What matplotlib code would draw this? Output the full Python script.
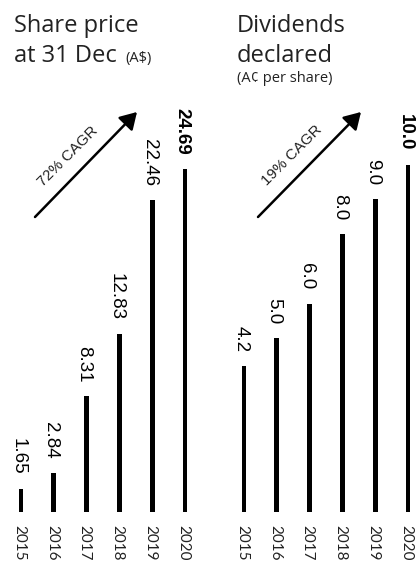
import matplotlib.pyplot as plt
from matplotlib.patches import FancyArrowPatch

# data
years = ['2015', '2016', '2017', '2018', '2019', '2020']
share_price = [1.65, 2.84, 8.31, 12.83, 22.46, 24.69]
share_labels = ['1.65', '2.84', '8.31', '12.83', '22.46', '24.69']
dividends = [4.2, 5.0, 6.0, 8.0, 9.0, 10.0]
div_labels = ['4.2', '5.0', '6.0', '8.0', '9.0', '10.0']

W, H = 417, 563
fig = plt.figure(figsize=(W / 100, H / 100), dpi=100)

title_font = ['Open Sans', 'DejaVu Sans']
num_font = 'Liberation Sans'


def px_axes(left, bottom, width, height):
    return fig.add_axes([left / W, bottom / H, width / W, height / H])


def draw_panel(ax, values, labels, ymax, xmax):
    x = list(range(len(values)))
    ax.bar(x, values, width=0.15, color='black')
    ax.set_xlim(-0.5, xmax)
    ax.set_ylim(0, ymax)
    ax.axis('off')
    for i, (v, lab) in enumerate(zip(values, labels)):
        last = i == len(values) - 1
        # rotated bbox includes descent space, so nudge left to centre glyphs
        ax.annotate(lab, (i, v), xytext=(-3, 14), textcoords='offset pixels',
                    rotation=270, ha='center', va='bottom',
                    fontsize=13.5, family=num_font,
                    fontweight='bold' if last else 'normal', color='black',
                    annotation_clip=False)
        ax.annotate(years[i], (i, 0), xytext=(-2, -13), textcoords='offset pixels',
                    rotation=270, ha='center', va='top',
                    fontsize=11, family='Lato', color='#222222',
                    annotation_clip=False)


# left panel: share price
ax1 = px_axes(4.6, 51, 196.8, 417)
draw_panel(ax1, share_price, share_labels, 30.0, 5.5)

# right panel: dividends
ax2 = px_axes(227.6, 51, 189.4, 417)
draw_panel(ax2, dividends, div_labels, 12.0, -0.5 + 189.4 / 32.8)

# CAGR arrows
for tail, tip, txt, c in [((35, 346), (137, 451), '72% CAGR', (68, 407)),
                          ((258, 346), (361, 451), '19% CAGR', (292, 408))]:
    fig.add_artist(FancyArrowPatch(
        (tail[0] / W, tail[1] / H), (tip[0] / W, tip[1] / H),
        transform=fig.transFigure, arrowstyle='-|>,head_length=0.5,head_width=0.3',
        mutation_scale=20, lw=1.8, color='black', shrinkA=0, shrinkB=0))
    fig.text(c[0] / W, c[1] / H, txt, rotation=45, ha='center', va='center',
             fontsize=11, family=num_font, color='#222222')

# titles
tc = '#222222'
fig.text(14 / W, 531 / H, 'Share price', fontsize=17, family=title_font,
         color=tc, va='baseline')
fig.text(14 / W, 501 / H, 'at 31 Dec', fontsize=17, family=title_font,
         color=tc, va='baseline')
fig.text(125 / W, 501 / H, '(A$)', fontsize=10.5, family=title_font,
         color=tc, va='baseline')
fig.text(237 / W, 531 / H, 'Dividends', fontsize=17, family=title_font,
         color=tc, va='baseline')
fig.text(237 / W, 501 / H, 'declared', fontsize=17, family=title_font,
         color=tc, va='baseline')
fig.text(237 / W, 481 / H, '(A¢ per share)', fontsize=10.5, family=title_font,
         color=tc, va='baseline')

fig.savefig('out.png', dpi=100)
